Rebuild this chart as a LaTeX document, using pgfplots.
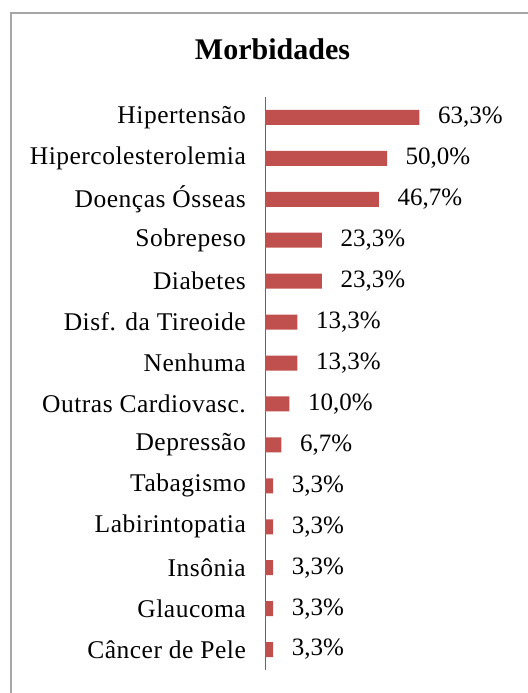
\documentclass[border=0pt]{standalone}
\usepackage{fontspec}
\setmainfont{Liberation Serif}
\newfontfamily\lblfont{Liberation Serif}[LetterSpace=2]
\newfontfamily\numfont{Liberation Serif}
\usepackage{pgfplots}
\pgfplotsset{compat=1.18}
\definecolor{barred}{HTML}{C0504D}
\definecolor{framegray}{HTML}{A6A6A6}
\begin{document}
\begin{tikzpicture}[x=1bp,y=1bp]
\useasboundingbox (0,0) rectangle (528,693);
\clip (0,0) rectangle (528,693);
\draw[framegray, line width=2bp] (540,680) -- (11,680) -- (11,-10);
\node[anchor=base, font=\bfseries\fontsize{30bp}{34bp}\selectfont] at (272.5,633) {Morbidades};
\begin{axis}[
  at={(265bp,23bp)}, anchor=south west,
  scale only axis, width=244bp, height=573bp,
  xmin=0, xmax=100, ymin=-0.5, ymax=13.5,
  y dir=reverse,
  xbar, bar width=15bp,
  axis x line=none,
  axis y line=left,
  axis line style={draw=gray!80!black, line width=0.8bp, -},
  ytick={0,...,13},
  major tick length=0pt,
  yticklabels={Hipertensão, Hipercolesterolemia, Doenças Ósseas, Sobrepeso, Diabetes, Disf. da Tireoide, Nenhuma, Outras Cardiovasc., Depressão, Tabagismo, Labirintopatia, Insônia, Glaucoma, Câncer de Pele},
  yticklabel style={font=\lblfont\fontsize{25.5bp}{30bp}\selectfont, inner sep=0pt, anchor=east, xshift=-19bp},
  nodes near coords={\pgfmathprintnumber[fixed, fixed zerofill, precision=1, use comma, assume math mode=true]{\pgfplotspointmeta}\%},
  nodes near coords style={font=\numfont\fontsize{25bp}{30bp}\selectfont, anchor=west, inner sep=0pt, xshift=18.5bp},
  point meta=x,
  clip=false,
]
\addplot[fill=barred, draw=none] coordinates {
  (63.3,0) (50.0,1) (46.7,2) (23.3,3) (23.3,4) (13.3,5) (13.3,6)
  (10.0,7) (6.7,8) (3.3,9) (3.3,10) (3.3,11) (3.3,12) (3.3,13)
};
\end{axis}
\end{tikzpicture}
\end{document}
